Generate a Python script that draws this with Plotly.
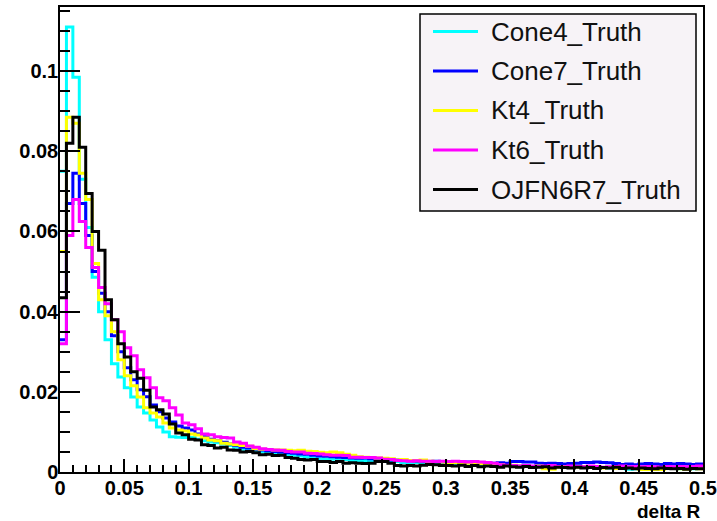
import numpy as np
import plotly.graph_objects as go

# 100 bins of width 0.005 over delta R in [0, 0.5]
bin_width = 0.005
n_bins = 100
edges = np.round(np.arange(n_bins + 1) * bin_width, 4)

cone4_truth = [
    0.075, 0.111, 0.0985, 0.073, 0.061, 0.0486, 0.040, 0.033, 0.027, 0.0237,
    0.021, 0.0187, 0.0162, 0.0147, 0.013, 0.0112, 0.010, 0.0088, 0.0087, 0.0086,
    0.0086, 0.0082, 0.0078, 0.0075, 0.0073, 0.0070, 0.0066, 0.0062, 0.0057, 0.0054,
    0.0051, 0.0050, 0.0047, 0.0046, 0.0044, 0.0042, 0.0042, 0.0040, 0.0037, 0.0035,
    0.0033, 0.0032, 0.0032, 0.0030, 0.0031, 0.0029, 0.0028, 0.0029, 0.0027, 0.0026,
    0.0026, 0.0025, 0.0026, 0.0024, 0.0023, 0.0024, 0.0022, 0.0023, 0.0021, 0.0022,
    0.0020, 0.0021, 0.0019, 0.0020, 0.0018, 0.0019, 0.0017, 0.0018, 0.0016, 0.0017,
    0.0016, 0.0015, 0.0016, 0.0014, 0.0015, 0.0014, 0.0013, 0.0014, 0.0012, 0.0013,
    0.0012, 0.0013, 0.0011, 0.0012, 0.0011, 0.0010, 0.0011, 0.0009, 0.0007, 0.0008,
    0.0010, 0.0009, 0.0010, 0.0008, 0.0009, 0.0009, 0.0008, 0.0009, 0.0008, 0.0009,
]

cone7_truth = [
    0.033, 0.067, 0.0745, 0.067, 0.059, 0.050, 0.0446, 0.040, 0.034, 0.030,
    0.026, 0.023, 0.0205, 0.0188, 0.0167, 0.015, 0.0135, 0.0125, 0.0115, 0.011,
    0.0105, 0.0095, 0.0088, 0.0082, 0.0078, 0.0074, 0.0070, 0.0066, 0.0062, 0.0060,
    0.0057, 0.0055, 0.0053, 0.0051, 0.0050, 0.0048, 0.0047, 0.0045, 0.0044, 0.0042,
    0.0040, 0.0039, 0.0038, 0.0037, 0.0036, 0.0035, 0.0034, 0.0035, 0.0033, 0.0032,
    0.0031, 0.0030, 0.0030, 0.0029, 0.0028, 0.0027, 0.0027, 0.0026, 0.0027, 0.0025,
    0.0026, 0.0025, 0.0024, 0.0025, 0.0023, 0.0024, 0.0023, 0.0022, 0.0023, 0.0022,
    0.0026, 0.0026, 0.0025, 0.0025, 0.0022, 0.0021, 0.0022, 0.0021, 0.0020, 0.0021,
    0.0022, 0.0024, 0.0024, 0.0025, 0.0024, 0.0023, 0.0021, 0.0019, 0.0020, 0.0018,
    0.0020, 0.0021, 0.0020, 0.0019, 0.0021, 0.0020, 0.0021, 0.0020, 0.0019, 0.0020,
]

kt4_truth = [
    0.055, 0.0885, 0.087, 0.0745, 0.068, 0.052, 0.043, 0.039, 0.035, 0.028,
    0.024, 0.0215, 0.0187, 0.016, 0.0147, 0.0137, 0.0122, 0.011, 0.0105, 0.0102,
    0.0095, 0.0092, 0.0085, 0.0080, 0.0078, 0.0072, 0.0070, 0.0068, 0.0066, 0.0064,
    0.0058, 0.0057, 0.0056, 0.0055, 0.0055, 0.0054, 0.0053, 0.0054, 0.0052, 0.0051,
    0.0049, 0.0048, 0.0050, 0.0048, 0.0044, 0.0042, 0.0038, 0.0037, 0.0036, 0.0035,
    0.0034, 0.0033, 0.0030, 0.0031, 0.0029, 0.0028, 0.0030, 0.0027, 0.0026, 0.0025,
    0.0023, 0.0024, 0.0021, 0.0022, 0.0020, 0.0021, 0.0019, 0.0017, 0.0018, 0.0016,
    0.0017, 0.0015, 0.0016, 0.0014, 0.0015, 0.0008, 0.0007, 0.0012, 0.0014, 0.0013,
    0.0012, 0.0013, 0.0011, 0.0012, 0.0010, 0.0011, 0.0009, 0.0010, 0.0011, 0.0010,
    0.0006, 0.0006, 0.0006, 0.0006, 0.0010, 0.0009, 0.0008, 0.0007, 0.0009, 0.0008,
]

kt6_truth = [
    0.032, 0.059, 0.068, 0.0625, 0.056, 0.051, 0.046, 0.042, 0.038, 0.035,
    0.031, 0.029, 0.0255, 0.0235, 0.021, 0.0185, 0.0178, 0.016, 0.0142, 0.0122,
    0.0118, 0.0108, 0.0095, 0.0093, 0.0088, 0.0086, 0.0085, 0.0075, 0.0072, 0.0065,
    0.0062, 0.0058, 0.0056, 0.0055, 0.0054, 0.0051, 0.0050, 0.0050, 0.0047, 0.0046,
    0.0045, 0.0043, 0.0042, 0.0042, 0.0041, 0.0037, 0.0037, 0.0036, 0.0036, 0.0035,
    0.0032, 0.0031, 0.0029, 0.0028, 0.0027, 0.0028, 0.0027, 0.0027, 0.0026, 0.0027,
    0.0026, 0.0027, 0.0026, 0.0025, 0.0026, 0.0025, 0.0024, 0.0022, 0.0018, 0.0017,
    0.0016, 0.0015, 0.0016, 0.0015, 0.0014, 0.0015, 0.0016, 0.0014, 0.0013, 0.0015,
    0.0014, 0.0013, 0.0015, 0.0014, 0.0012, 0.0013, 0.0014, 0.0015, 0.0013, 0.0014,
    0.0013, 0.0014, 0.0013, 0.0012, 0.0014, 0.0013, 0.0014, 0.0013, 0.0014, 0.0015,
]

ojfn6r7_truth = [
    0.0435, 0.082, 0.0885, 0.081, 0.0695, 0.060, 0.0553, 0.043, 0.038, 0.032,
    0.0287, 0.025, 0.0234, 0.0204, 0.0162, 0.0155, 0.0145, 0.012, 0.0097, 0.0093,
    0.0082, 0.0080, 0.0068, 0.0066, 0.0060, 0.0062, 0.0055, 0.0054, 0.0050, 0.0051,
    0.0048, 0.0043, 0.0044, 0.0041, 0.0042, 0.0036, 0.0034, 0.0031, 0.0030, 0.0031,
    0.0026, 0.0026, 0.0024, 0.0026, 0.0022, 0.0023, 0.0022, 0.0021, 0.0022, 0.0026,
    0.0026, 0.0022, 0.0016, 0.0015, 0.0016, 0.0015, 0.0017, 0.0019, 0.0018, 0.0016,
    0.0016, 0.0015, 0.0017, 0.0014, 0.0016, 0.0013, 0.0015, 0.0014, 0.0012, 0.0015,
    0.0013, 0.0012, 0.0014, 0.0011, 0.0012, 0.0013, 0.0010, 0.0012, 0.0011, 0.0010,
    0.0012, 0.0010, 0.0011, 0.0009, 0.0011, 0.0010, 0.0012, 0.0009, 0.0010, 0.0008,
    0.0010, 0.0009, 0.0008, 0.0010, 0.0009, 0.0008, 0.0009, 0.0007, 0.0009, 0.0008,
]

series = [
    ("Cone4_Truth", cone4_truth, "#00ffff"),
    ("Cone7_Truth", cone7_truth, "#0000ff"),
    ("Kt4_Truth", kt4_truth, "#ffff00"),
    ("Kt6_Truth", kt6_truth, "#ff00ff"),
    ("OJFN6R7_Truth", ojfn6r7_truth, "#000000"),
]

fig = go.Figure()
for name, vals, col in series:
    # step histogram: each value holds from its left edge; repeat last to close at 0.5
    fig.add_trace(go.Scatter(x=edges, y=list(vals) + [vals[-1]], mode="lines",
                             line=dict(shape="hv", color=col, width=3),
                             name=name, showlegend=False, hoverinfo="skip"))

FONT = "Liberation Sans, Arial, sans-serif"

# ROOT-style legend box, placed in paper coordinates (plot area = 643 x 465 px)
def px_x(px):
    return (px - 60) / 643.0


def px_y(py):
    return (472 - py) / 465.0


shapes = [dict(type="rect", xref="paper", yref="paper",
               x0=px_x(420), x1=px_x(696), y0=px_y(211), y1=px_y(14),
               fillcolor="#f7f3f7", line=dict(color="black", width=1.5), layer="above")]
annotations = []
for k, (name, _, col) in enumerate(series):
    row_y = px_y(31.5 + 39.5 * k)
    shapes.append(dict(type="line", xref="paper", yref="paper",
                       x0=px_x(433), x1=px_x(478), y0=row_y, y1=row_y,
                       line=dict(color=col, width=3), layer="above"))
    annotations.append(dict(text=name, x=px_x(489), y=row_y, xref="paper", yref="paper",
                            xanchor="left", yanchor="middle", showarrow=False,
                            font=dict(family=FONT, size=26, color="#111111")))

annotations.append(dict(text="delta R", x=1, y=-0.085, xref="paper", yref="paper",
                        xanchor="right", yanchor="middle", showarrow=False,
                        font=dict(family=FONT, size=19, color="black", weight="bold")))

tick_font = dict(family=FONT, size=20, color="black", weight="bold")
axis_common = dict(showline=True, linecolor="black", linewidth=1.5, mirror=True,
                   showgrid=False, zeroline=False, ticks="inside", tickcolor="black",
                   tickwidth=1.5, tickfont=tick_font, automargin=False)

fig.update_layout(
    width=717, height=521,
    margin=dict(l=60, r=14, t=7, b=49),
    paper_bgcolor="white", plot_bgcolor="white",
    xaxis=dict(range=[0, 0.5], tick0=0, dtick=0.05, ticklen=13, ticklabelstandoff=-3,
               minor=dict(dtick=0.01, ticks="inside", ticklen=7, tickwidth=1.5,
                          tickcolor="black", showgrid=False),
               **axis_common),
    yaxis=dict(range=[0, 0.116], tick0=0, dtick=0.02, ticklen=20, ticklabelstandoff=-4,
               minor=dict(dtick=0.005, ticks="inside", ticklen=10, tickwidth=1.5,
                          tickcolor="black", showgrid=False),
               **axis_common),
    showlegend=False,
    shapes=shapes,
    annotations=annotations,
)

# drop the page's default body margin so the figure sits at the window's corner
fig.write_html("out.html", config={"displayModeBar": False},
               post_script="document.body.style.margin='0';")
